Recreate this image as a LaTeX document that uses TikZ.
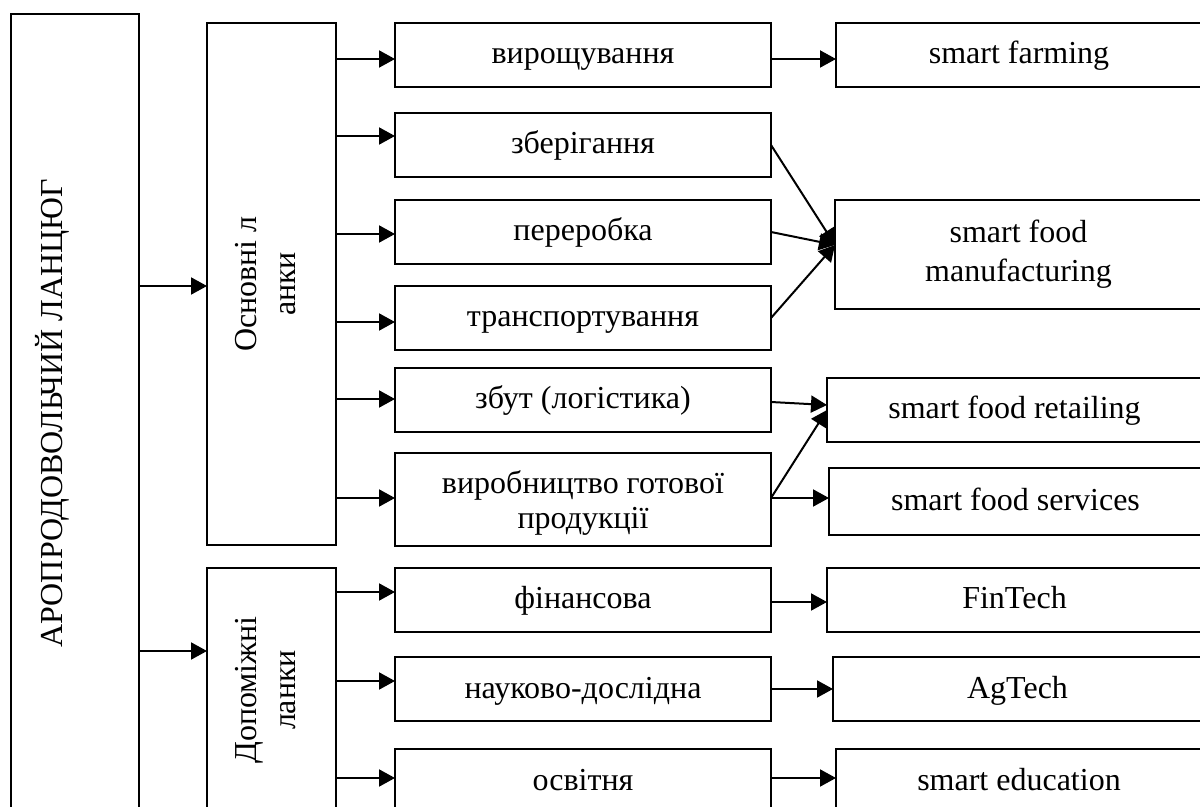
\documentclass[tikz,border=0pt]{standalone}
\usepackage{fontspec}
\setmainfont{Liberation Serif}
\usetikzlibrary{arrows.meta}
\tikzset{
  txt/.style={font=\fontsize{16}{19.5}\selectfont},
  bx/.style={draw, line width=1pt, inner sep=0pt, outer sep=0pt, align=center, txt},
  one/.style={text height=12pt, text depth=3pt},
  lbl/.style={inner sep=0pt, align=center, txt},
  arr/.style={line width=1pt, -{Triangle[length=8pt,width=8.5pt]}},
}
\newcommand\pbox[7][]{\node[bx,#1, minimum width={(#5-#3)*0.5pt}, minimum height={(#6-#4)*0.5pt}] (#2) at ({(#3+#5)/2},{(#4+#6)/2}) {#7};}
\begin{document}
\begin{tikzpicture}[x=0.5pt,y=-0.5pt]
\useasboundingbox (0,0) rectangle (1200,807);
\fill[white] (0,0) rectangle (1200,807);
\clip (0,0) rectangle (1200,807);
% left column
\pbox{outer}{11}{14}{139}{812}{}
\node[lbl, rotate=90, anchor=base] (outerlbl) at (62,413) {АРОПРОДОВОЛЬЧИЙ ЛАНЦЮГ};
\pbox{osn}{207}{23}{336}{545}{}
\node[lbl, rotate=90] (osnlbl) at (266,284) {Основні л\\анки};
\pbox{dop}{207}{568}{336}{812}{}
\node[lbl, rotate=90] (doplbl) at (266,690) {Допоміжні\\ланки};
% middle column
\pbox[one]{virosh}{395}{23}{771}{87}{вирощування}
\pbox[one]{zber}{395}{113}{771}{177}{зберігання}
\pbox[one]{perer}{395}{200}{771}{264}{переробка}
\pbox[one]{transp}{395}{286}{771}{350}{транспортування}
\pbox[one]{zbut}{395}{368}{771}{432}{збут (логістика)}
\pbox{vyrob}{395}{453}{771}{546}{}
\node[lbl, font=\fontsize{16}{17.5}\selectfont] (vyroblbl) at (583,503) {виробництво готової\\продукції};
\pbox[one]{fin}{395}{568}{771}{632}{фінансова}
\pbox[one]{nauk}{395}{657}{771}{721}{науково-дослідна}
\pbox[one]{osv}{395}{749}{771}{813}{освітня}
% right column
\pbox[one]{farming}{836}{23}{1202}{87}{smart farming}
\pbox{manuf}{835}{200}{1202}{309}{smart food\\manufacturing}
\pbox[one]{retail}{827}{378}{1202}{442}{smart food retailing}
\pbox[one]{serv}{829}{468}{1202}{535}{smart food services}
\pbox[one]{fintech}{827}{568}{1202}{632}{FinTech}
\pbox[one]{agtech}{833}{657}{1202}{721}{AgTech}
\pbox[one]{edu}{836}{749}{1202}{813}{smart education}
% connectors
\draw[arr] (outer.east |- 0,286) -- (osn.west |- 0,286);
\draw[arr] (outer.east |- 0,651) -- (dop.west |- 0,651);
\foreach \n/\y in {virosh/59, zber/136, perer/234, transp/322, zbut/399, vyrob/498}
  \draw[arr] (osn.east |- 0,\y) -- (\n.west |- 0,\y);
\foreach \n/\y in {fin/592, nauk/681, osv/778}
  \draw[arr] (dop.east |- 0,\y) -- (\n.west |- 0,\y);
\draw[arr] (virosh.east |- 0,59) -- (farming.west |- 0,59);
\draw[arr] (fin.east |- 0,602) -- (fintech.west |- 0,602);
\draw[arr] (nauk.east |- 0,689) -- (agtech.west |- 0,689);
\draw[arr] (osv.east |- 0,778) -- (edu.west |- 0,778);
\draw[arr] (zber.east) -- (manuf.west |- 0,245);
\draw[arr] (perer.east) -- (manuf.west |- 0,245);
\draw[arr] (transp.east) -- (manuf.west |- 0,245);
\draw[arr] (zbut.east |- 0,402) -- (retail.west |- 0,405);
\draw[arr] (vyrob.east |- 0,498) -- (retail.west |- 0,410);
\draw[arr] (vyrob.east |- 0,498) -- (serv.west |- 0,498);
\end{tikzpicture}
\end{document}
